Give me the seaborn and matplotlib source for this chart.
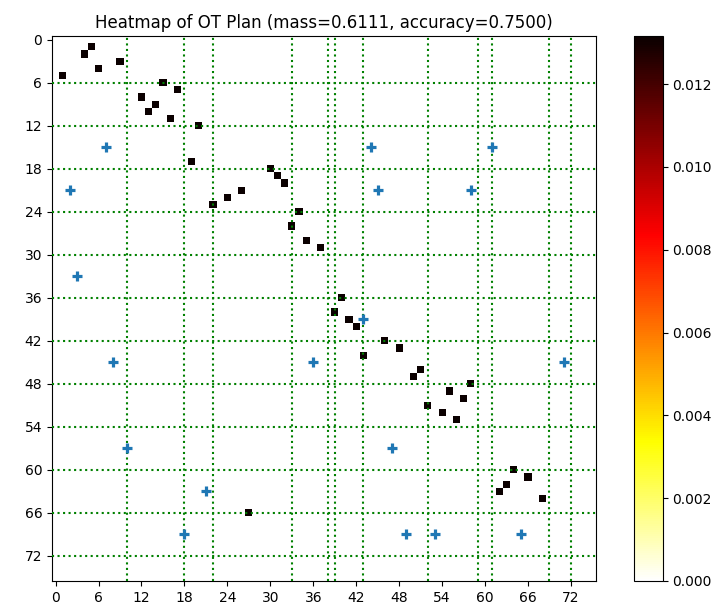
import numpy as np
import pandas as pd
import matplotlib
matplotlib.use("Agg")
import matplotlib.pyplot as plt
import seaborn as sns

# ---- data ----
n_rows = 76
n_cols = 76
plan_rows = [5, 2, 1, 4, 3, 6, 7, 8, 10, 9, 11, 12, 17, 18, 19, 20, 22, 21, 23, 24,
             26, 28, 29, 36, 38, 39, 40, 44, 42, 43, 46, 47, 48, 49, 50, 51, 52, 53,
             60, 61, 62, 63, 64, 66]
plan_cols = [1, 4, 5, 6, 9, 15, 17, 12, 13, 14, 16, 20, 19, 30, 31, 32, 24, 26, 22, 34,
             33, 35, 37, 40, 39, 41, 42, 43, 46, 48, 51, 50, 58, 55, 57, 52, 54, 56,
             64, 66, 63, 62, 68, 27]
plan_values = [0.01316] * len(plan_rows)

marker_rows = [15, 15, 15, 21, 21, 21, 33, 39, 45, 45, 45, 57, 57, 63, 69, 69, 69, 69]
marker_cols = [7, 44, 61, 2, 45, 58, 3, 43, 8, 36, 71, 10, 47, 21, 18, 49, 53, 65]

hlines = [6, 12, 18, 24, 30, 36, 42, 48, 54, 60, 66, 72]
vlines = [10, 18, 22, 33, 38, 39, 43, 52, 59, 61, 69, 72]

tick_vals = [0, 6, 12, 18, 24, 30, 36, 42, 48, 54, 60, 66, 72]
cbar_ticks = [0.000, 0.002, 0.004, 0.006, 0.008, 0.010, 0.012]

title = "Heatmap of OT Plan (mass=0.6111, accuracy=0.7500)"

# ---- build matrix ----
mat = np.zeros((n_rows, n_cols))
for r, c, v in zip(plan_rows, plan_cols, plan_values):
    mat[r, c] = v
df = pd.DataFrame(mat)

fig = plt.figure(figsize=(7.28, 6.11), dpi=100)
ax = fig.add_axes([0.0714, 0.0491, 0.7473, 0.892])
cax = fig.add_axes([0.8709, 0.0491, 0.0392, 0.892])

sns.heatmap(df, cmap="hot_r", vmin=0, vmax=0.01316, ax=ax, cbar_ax=cax,
            xticklabels=False, yticklabels=False)

for y in hlines:
    ax.axhline(y + 0.5, color="green", linestyle=":", linewidth=1.5, zorder=3)
for x in vlines:
    ax.axvline(x + 0.5, color="green", linestyle=":", linewidth=1.5, zorder=3)

ax.scatter(np.array(marker_cols) + 0.5, np.array(marker_rows) + 0.5, marker="+",
           s=50, color="#1f77b4", linewidths=2.3, zorder=4)

ax.set_xticks(np.array(tick_vals) + 0.5)
ax.set_xticklabels([str(t) for t in tick_vals], rotation=0, fontsize=10)
ax.set_yticks(np.array(tick_vals) + 0.5)
ax.set_yticklabels([str(t) for t in tick_vals], rotation=0, fontsize=10)
ax.tick_params(length=3.5, width=0.8)
for sp in ax.spines.values():
    sp.set_visible(True)
    sp.set_linewidth(0.8)
    sp.set_color("black")
ax.set_xlim(0, n_cols)
ax.set_ylim(n_rows, 0)
ax.set_title(title, fontsize=12)

cb = ax.collections[0].colorbar
cb.outline.set_visible(True)
cb.outline.set_linewidth(0.8)
cb.outline.set_edgecolor("black")
cb.set_ticks(cbar_ticks)
cb.set_ticklabels([f"{t:.3f}" for t in cbar_ticks])
cax.tick_params(labelsize=10, length=3.5, width=0.8)

fig.savefig("out.png", dpi=100)
